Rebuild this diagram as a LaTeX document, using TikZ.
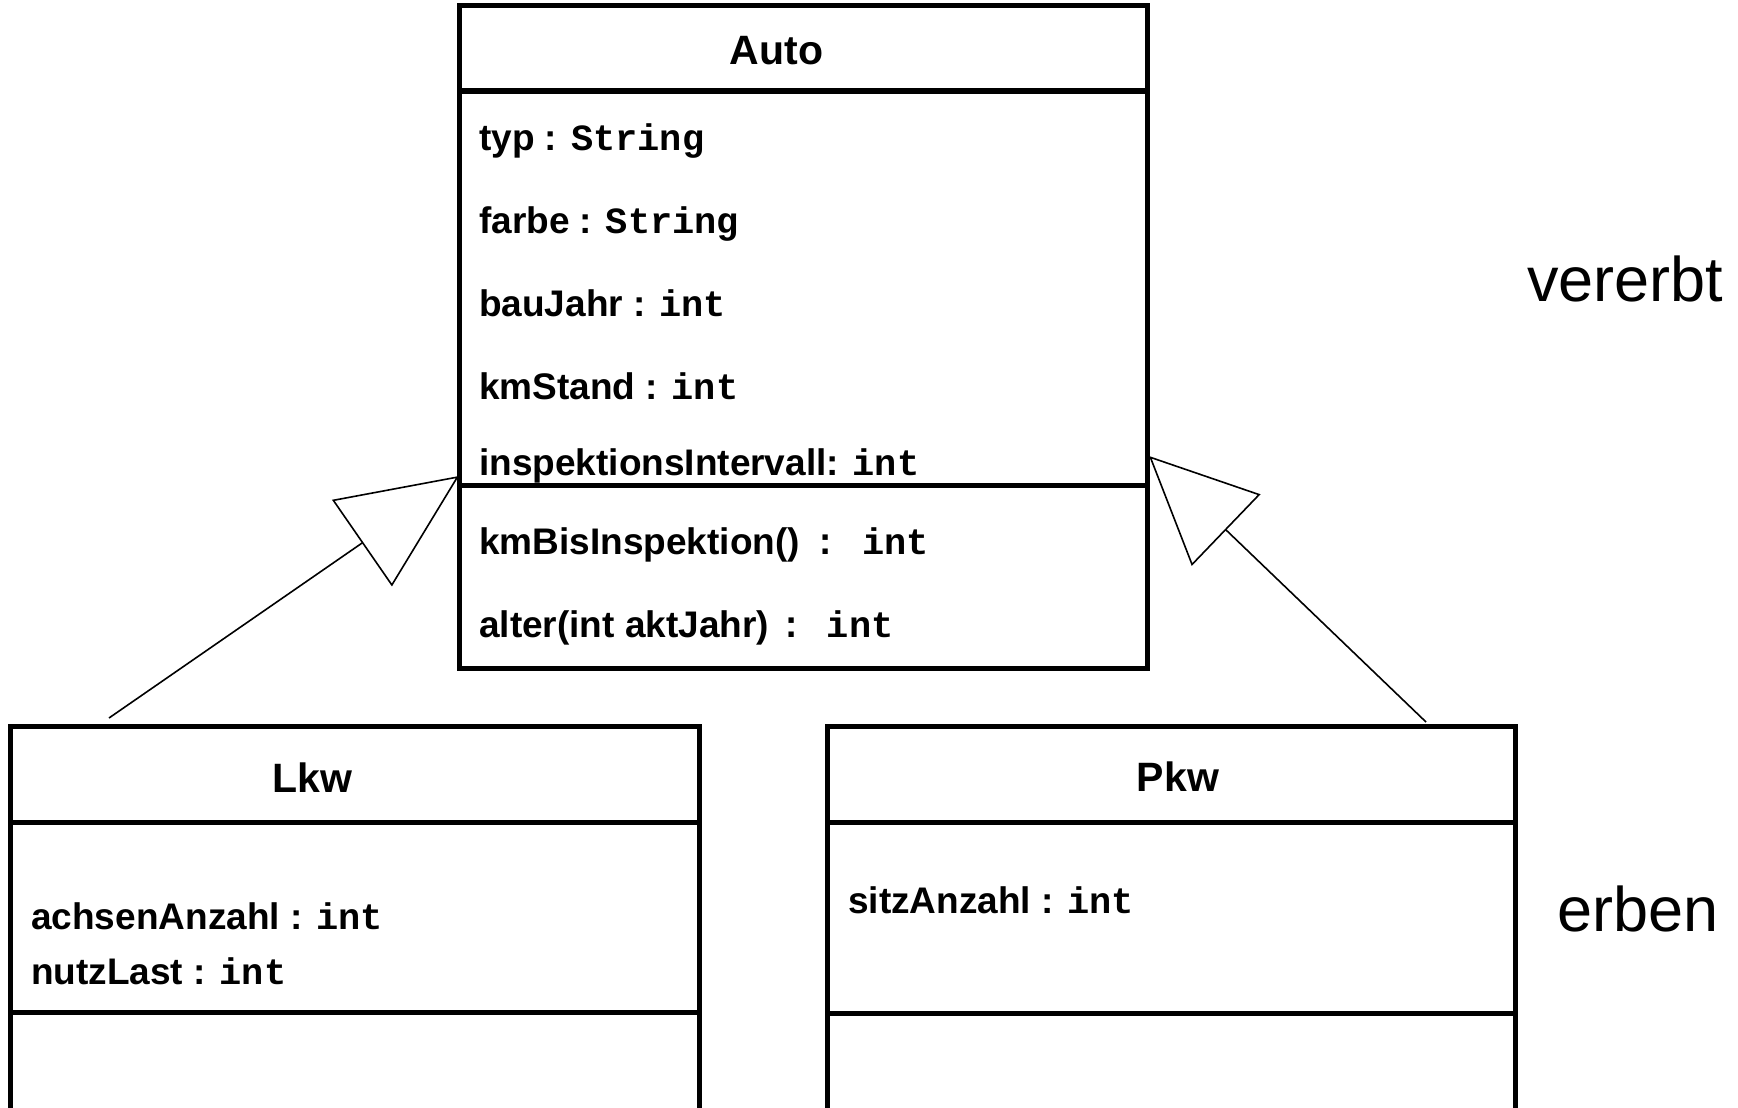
\documentclass[tikz,border=0pt]{standalone}
\usepackage{fontspec}
\setmainfont{Liberation Sans}
\setmonofont{Liberation Mono}
\usetikzlibrary{arrows.meta}
\newcommand{\umltype}[1]{\texttt{\bfseries #1}}
\tikzset{
  classbox/.style={draw, line width=5pt, inner sep=0pt, outer sep=0pt, anchor=north west},
  compartment/.style={line width=5pt},
  member/.style={anchor=base west, inner sep=0pt, font=\fontsize{37}{44}\selectfont\bfseries},
  classname/.style={anchor=base, inner sep=0pt, font=\fontsize{41}{48}\selectfont\bfseries},
  note/.style={anchor=base west, inner sep=0pt, font=\fontsize{63}{72}\selectfont},
  generalization/.style 2 args={line width=1.6pt, -{Triangle[open, length=#1, width=#2]}}
}
\begin{document}
\begin{tikzpicture}[x=1pt, y=-1pt]
  \useasboundingbox (0,0) rectangle (1738,1108);
  \clip (0,0) rectangle (1738,1108);

  % superclass Auto
  \node[classbox, minimum width=688pt, minimum height=662pt] (auto) at (459,6) {};
  \draw[compartment] (auto.north west |- 0,91) -- (auto.north east |- 0,91);
  \draw[compartment] (auto.north west |- 0,485) -- (auto.north east |- 0,485);
  \node[classname] (autoname) at (776.5,65) {Auto};
  \node[member] (typ)   at (479,150) {typ : \umltype{String}};
  \node[member] (farbe) at (479,233) {farbe : \umltype{String}};
  \node[member] (bau)   at (479,316) {bauJahr : \umltype{int}};
  \node[member] (km)    at (479,399) {kmStand : \umltype{int}};
  \node[member] (insp)  at (479,475) {inspektionsIntervall: \umltype{int}};
  \node[member] (kmbis) at (479,554.5) {kmBisInspektion()\umltype{\hspace{15pt}:\hspace{25pt}int}};
  \node[member] (alter) at (479,637) {alter(int aktJahr)\umltype{\hspace{11pt}:\hspace{24.5pt}int}};

  % subclass Lkw
  \node[classbox, minimum width=689pt, minimum height=420pt] (lkw) at (10,726) {};
  \draw[compartment] (lkw.north west |- 0,822) -- (lkw.north east |- 0,822);
  \draw[compartment] (lkw.north west |- 0,1012) -- (lkw.north east |- 0,1012);
  \node[classname] (lkwname) at (312.5,792) {Lkw};
  \node[member] (achsen) at (31,929) {achsenAnzahl : \umltype{int}};
  \node[member] (nutz)   at (31,984) {nutzLast : \umltype{int}};

  % subclass Pkw
  \node[classbox, minimum width=688pt, minimum height=420pt] (pkw) at (827,726) {};
  \draw[compartment] (pkw.north west |- 0,822) -- (pkw.north east |- 0,822);
  \draw[compartment] (pkw.north west |- 0,1013) -- (pkw.north east |- 0,1013);
  \node[classname] (pkwname) at (1178,791) {Pkw};
  \node[member] (sitz) at (848,913) {sitzAnzahl : \umltype{int}};

  % inheritance arrows
  \coordinate (lkwhook) at (109,718);
  \coordinate (autoleft) at (459,476);
  \coordinate (pkwhook) at (1426,722);
  \coordinate (autoright) at (1149,456);
  \draw[generalization={118pt}{105pt}] (lkwhook) -- (autoleft);
  \draw[generalization={107pt}{99pt}] (pkwhook) -- (autoright);

  % side labels
  \node[note] (vererbt) at (1527,301) {vererbt};
  \node[note] (erben)   at (1557,931) {erben};
\end{tikzpicture}
\end{document}
